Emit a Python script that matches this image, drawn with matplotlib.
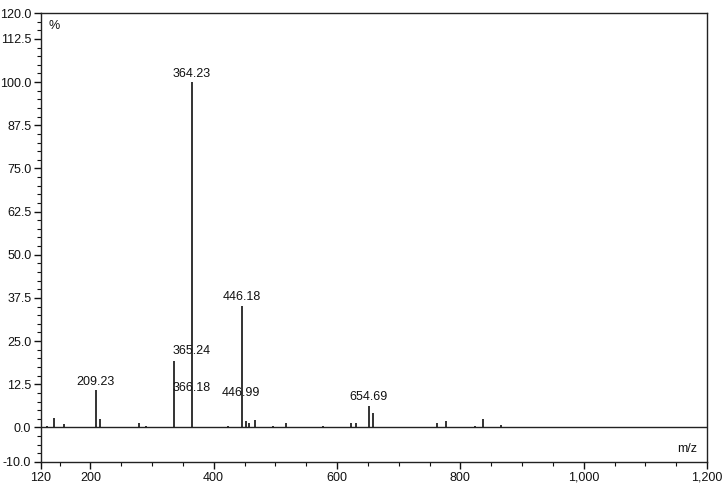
import numpy as np
import matplotlib
matplotlib.use("Agg")
import matplotlib.pyplot as plt
from matplotlib.ticker import FixedLocator, MultipleLocator, FuncFormatter

plt.rcParams['font.family'] = ['Liberation Sans', 'DejaVu Sans']

# Peak list (m/z, relative intensity %)
peak_mz = [129, 141.6, 157.8, 208.9, 215.7, 279.4, 291, 335.4, 364.23, 423.7,
           445.6, 452.4, 457.8, 467, 495.7, 516.8, 576.8, 622, 630, 652.5,
           659, 761.6, 776.7, 823.7, 836, 865.5]
peak_int = [0.5, 2.6, 1.0, 10.8, 2.4, 1.2, 0.5, 19.3, 100.0, 0.3,
            35.2, 1.9, 1.2, 2.2, 0.3, 1.4, 0.5, 1.2, 1.2, 6.2,
            4.2, 1.2, 1.8, 0.5, 2.5, 0.7]

# Peak labels as placed by the software (text centre m/z, text bottom %)
label_text = ["364.23", "365.24", "366.18", "209.23", "446.99", "446.18", "654.69"]
label_mz = [364.5, 364.9, 364.9, 208.6, 444.8, 445.5, 651.0]
label_y = [100.6, 20.3, 9.6, 11.4, 8.3, 36.0, 7.0]

fig = plt.figure(figsize=(7.22, 4.88), dpi=100)
ax = fig.add_axes([41 / 722, 1 - 462 / 488, 666 / 722, 449 / 488])

ax.axhline(0, color='#222222', lw=1.0, zorder=2)
ax.vlines(peak_mz, 0, peak_int, color='#111111', lw=1.2, zorder=3)

for txt, xm, yv in zip(label_text, label_mz, label_y):
    ax.text(xm, yv, txt, ha='center', va='bottom', fontsize=9, color='#111111')

ax.set_xlim(120, 1200)
ax.set_ylim(-10, 120)

ax.xaxis.set_major_locator(FixedLocator([120, 200, 400, 600, 800, 1000, 1200]))
ax.xaxis.set_minor_locator(FixedLocator(np.arange(150, 1200, 50)))
ax.xaxis.set_major_formatter(FuncFormatter(lambda v, p: f"{v:,.0f}"))

ax.yaxis.set_major_locator(FixedLocator([-10, 0, 12.5, 25, 37.5, 50, 62.5, 75,
                                         87.5, 100, 112.5, 120]))
ax.yaxis.set_minor_locator(MultipleLocator(2.5))
ax.yaxis.set_major_formatter(FuncFormatter(lambda v, p: f"{v:.1f}"))

ax.tick_params(which='major', direction='out', length=5, width=1.0,
               labelsize=9, pad=2, colors='#111111')
ax.tick_params(which='minor', direction='out', length=3, width=0.8,
               colors='#111111')

for spine in ax.spines.values():
    spine.set_linewidth(1.0)
    spine.set_color('#222222')

ax.text(0.012, 0.985, "%", transform=ax.transAxes, ha='left', va='top',
        fontsize=9, color='#111111')
ax.text(0.985, 0.015, "m/z", transform=ax.transAxes, ha='right', va='bottom',
        fontsize=9, color='#111111')

fig.savefig("out.png", dpi=100)
